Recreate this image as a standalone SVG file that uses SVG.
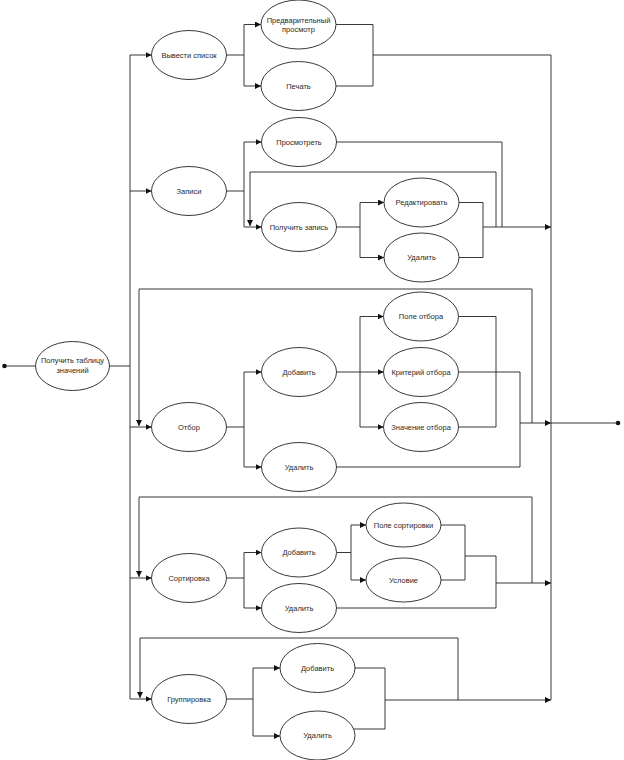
<svg xmlns="http://www.w3.org/2000/svg" width="624" height="760" viewBox="0 0 624 760">
<style>
.n ellipse{fill:#fff;stroke:#222;stroke-width:0.9}
.n text{font-family:"Liberation Sans",Arial,sans-serif;font-size:7.5px;fill:#2a2a2a;text-anchor:middle}
#edges path{fill:none;stroke:#222;stroke-width:0.9}
</style>
<defs>
<marker id="a" markerUnits="userSpaceOnUse" markerWidth="8" markerHeight="8" refX="6" refY="3" orient="auto">
<path d="M0,0 L6,3 L0,6 Z" fill="#111"/>
</marker>
</defs>
<rect width="624" height="760" fill="#fff"/>
<g id="edges">
<circle cx="4.5" cy="366" r="2.3" fill="#111"/>
<circle cx="618" cy="423" r="2.3" fill="#111"/>
<path d="M4.5,366 H35"/>
<path d="M109.5,366 H130"/>
<path d="M130,55 V699"/>
<path d="M551,55 V700"/>
<path d="M130,55 H151.5" marker-end="url(#a)"/>
<path d="M130,191 H151.5" marker-end="url(#a)"/>
<path d="M130,427 H151.5" marker-end="url(#a)"/>
<path d="M130,578 H151.5" marker-end="url(#a)"/>
<path d="M130,699 H151.5" marker-end="url(#a)"/>
<!-- Вывести список -->
<path d="M226.5,55 H244 M244,24.5 V86"/>
<path d="M244,24.5 H261" marker-end="url(#a)"/>
<path d="M244,86 H261" marker-end="url(#a)"/>
<path d="M336,24.5 H373 V86 H336 M373,55 H551"/>
<!-- Записи -->
<path d="M226.5,191 H244 M244,142 V227"/>
<path d="M244,142 H261.5" marker-end="url(#a)"/>
<path d="M244,227 H261.5" marker-end="url(#a)"/>
<path d="M336.5,142 H502 V227"/>
<path d="M336.5,227 H360 M360,202.5 V257.5"/>
<path d="M360,202.5 H384" marker-end="url(#a)"/>
<path d="M360,257.5 H384" marker-end="url(#a)"/>
<path d="M459,202.5 H483 V257.5 H459"/>
<path d="M483,227 H551" marker-end="url(#a)"/>
<path d="M496,227 V172 H250 V226" marker-end="url(#a)"/>
<!-- Отбор -->
<path d="M226.5,427 H244 M244,372 V467"/>
<path d="M244,372 H261.5" marker-end="url(#a)"/>
<path d="M244,467 H261.5" marker-end="url(#a)"/>
<path d="M360,316.5 V427"/>
<path d="M336.5,372 H383.5" marker-end="url(#a)"/>
<path d="M360,316.5 H383.5" marker-end="url(#a)"/>
<path d="M360,427 H383.5" marker-end="url(#a)"/>
<path d="M458.5,316.5 H496 V427 H458.5"/>
<path d="M458.5,372 H520 V467 H336.5"/>
<path d="M520,423 H551" marker-end="url(#a)"/>
<path d="M551,423 H618"/>
<path d="M532,423 V289 H139 V426" marker-end="url(#a)"/>
<!-- Сортировка -->
<path d="M226.5,578 H244 M244,552.5 V608"/>
<path d="M244,552.5 H261.5" marker-end="url(#a)"/>
<path d="M244,608 H261.5" marker-end="url(#a)"/>
<path d="M336.5,552.5 H351 M351,525 V580"/>
<path d="M351,525 H366" marker-end="url(#a)"/>
<path d="M351,580 H366" marker-end="url(#a)"/>
<path d="M441,525 H465 V580 H441 M465,556 H496 V608 H336.5"/>
<path d="M496,583 H551" marker-end="url(#a)"/>
<path d="M532,583 V497 H139 V577" marker-end="url(#a)"/>
<!-- Группировка -->
<path d="M226.5,699 H253 M253,668 V736"/>
<path d="M253,668 H280" marker-end="url(#a)"/>
<path d="M253,736 H280" marker-end="url(#a)"/>
<path d="M355,668 H385 V729 H354"/>
<path d="M385,700 H551" marker-end="url(#a)"/>
<path d="M458,700 V638 H140 V698" marker-end="url(#a)"/>
</g>
<g id="n-start" class="n"><ellipse cx="72.5" cy="366" rx="37" ry="24.5"/><text x="72.5" y="363">Получить таблицу</text><text x="72.5" y="372.5">значений</text></g>
<g id="n-vyvesti" class="n"><ellipse cx="189" cy="55" rx="37.5" ry="24.5"/><text x="189" y="57.7">Вывести список</text></g>
<g id="n-predv" class="n"><ellipse cx="298.5" cy="24.5" rx="37.5" ry="24.5"/><text x="298.5" y="22.5">Предварительный</text><text x="298.5" y="31.5">просмотр</text></g>
<g id="n-pechat" class="n"><ellipse cx="298.5" cy="86" rx="37.5" ry="24.5"/><text x="298.5" y="88.7">Печать</text></g>
<g id="n-zapisi" class="n"><ellipse cx="189" cy="191" rx="37.5" ry="24.5"/><text x="189" y="193.7">Записи</text></g>
<g id="n-prosm" class="n"><ellipse cx="299" cy="142" rx="37.5" ry="24.5"/><text x="299" y="144.7">Просмотреть</text></g>
<g id="n-poluchit" class="n"><ellipse cx="299" cy="227" rx="37.5" ry="24.5"/><text x="299" y="229.7">Получить запись</text></g>
<g id="n-red" class="n"><ellipse cx="421.5" cy="202.5" rx="37.5" ry="24.5"/><text x="421.5" y="205.2">Редактировать</text></g>
<g id="n-udal1" class="n"><ellipse cx="421.5" cy="257.5" rx="37.5" ry="24.5"/><text x="421.5" y="260.2">Удалить</text></g>
<g id="n-otbor" class="n"><ellipse cx="189" cy="427" rx="37.5" ry="24.5"/><text x="189" y="429.7">Отбор</text></g>
<g id="n-dob1" class="n"><ellipse cx="299" cy="372" rx="37.5" ry="24.5"/><text x="299" y="374.7">Добавить</text></g>
<g id="n-udal2" class="n"><ellipse cx="299" cy="467" rx="37.5" ry="24.5"/><text x="299" y="469.7">Удалить</text></g>
<g id="n-pole" class="n"><ellipse cx="421" cy="316.5" rx="37.5" ry="24.5"/><text x="421" y="319.2">Поле отбора</text></g>
<g id="n-krit" class="n"><ellipse cx="421" cy="372" rx="37.5" ry="24.5"/><text x="421" y="374.7">Критерий отбора</text></g>
<g id="n-znach" class="n"><ellipse cx="421" cy="427" rx="37.5" ry="24.5"/><text x="421" y="429.7">Значение отбора</text></g>
<g id="n-sort" class="n"><ellipse cx="189" cy="578" rx="37.5" ry="24.5"/><text x="189" y="580.7">Сортировка</text></g>
<g id="n-dob2" class="n"><ellipse cx="299" cy="552.5" rx="37.5" ry="24.5"/><text x="299" y="555.2">Добавить</text></g>
<g id="n-udal3" class="n"><ellipse cx="299" cy="608" rx="37.5" ry="24.5"/><text x="299" y="610.7">Удалить</text></g>
<g id="n-polesort" class="n"><ellipse cx="403.5" cy="525" rx="37.5" ry="22"/><text x="403.5" y="527.7">Поле сортировки</text></g>
<g id="n-uslovie" class="n"><ellipse cx="403.5" cy="580" rx="37.5" ry="22"/><text x="403.5" y="582.7">Условие</text></g>
<g id="n-grupp" class="n"><ellipse cx="189" cy="699" rx="37.5" ry="24.5"/><text x="189" y="701.7">Группировка</text></g>
<g id="n-dob3" class="n"><ellipse cx="317.5" cy="668" rx="37.5" ry="24.5"/><text x="317.5" y="670.7">Добавить</text></g>
<g id="n-udal4" class="n"><ellipse cx="317.5" cy="735.5" rx="37.5" ry="24.5"/><text x="317.5" y="738.2">Удалить</text></g>
</svg>
